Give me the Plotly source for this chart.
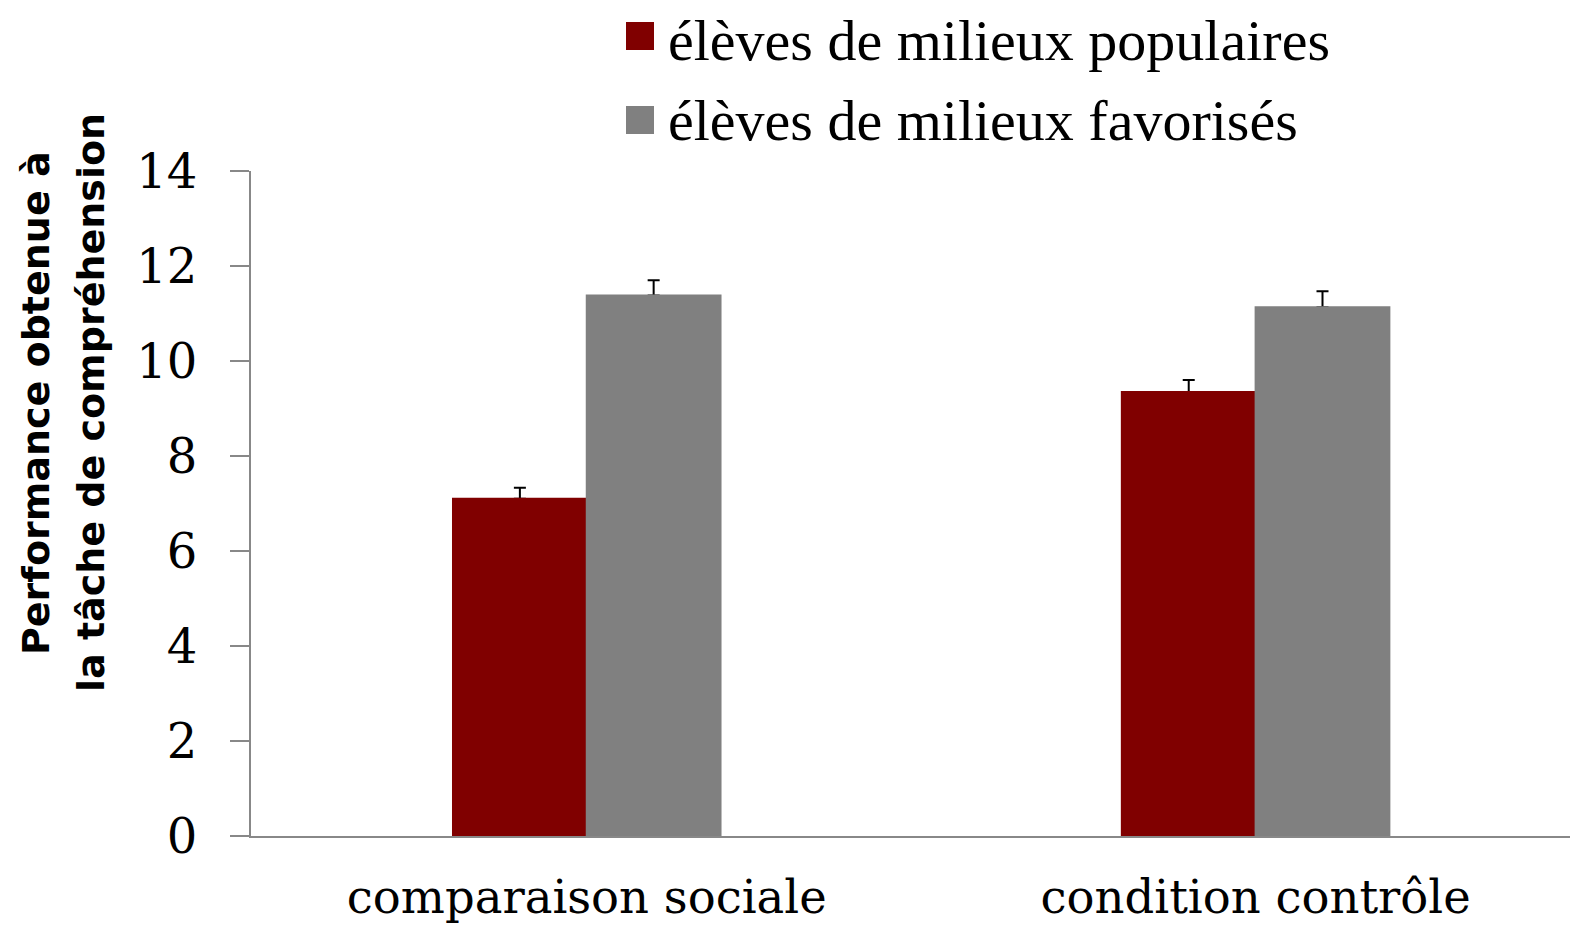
import plotly.graph_objects as go

# ---- data ----
categories = ["comparaison sociale", "condition contrôle"]
series_names = ["élèves de milieux populaires", "élèves de milieux favorisés"]
populaires = [7.10, 9.35]
favorises = [11.38, 11.13]
err_populaires = [0.23, 0.25]
err_favorises = [0.32, 0.34]
y_ticks = [0, 2, 4, 6, 8, 10, 12, 14]
y_title_lines = ["Performance obtenue à", "la tâche de compréhension"]

colors = ["#800000", "#808080"]

# the page body has an 8px margin; figure sized to fit the window
OFF = 8
W, H = 1578 - OFF, 931 - OFF
L, R, T, B = 251 - OFF, 0, 171 - OFF, 931 - 836
pw, ph = W - L - R, H - T - B


def px_x(x):  # page pixel -> paper
    return (x - OFF - L) / pw


def px_y(y):
    return (H - B - (y - OFF)) / ph


fig = go.Figure()
vals = [populaires, favorises]
errs = [err_populaires, err_favorises]
for i in range(2):
    fig.add_trace(go.Bar(
        x=categories, y=vals[i], name=series_names[i],
        marker=dict(color=colors[i], line=dict(width=0)),
        offsetgroup=str(i), showlegend=False,
        error_y=dict(type="data", symmetric=False, array=errs[i],
                     arrayminus=[0] * len(errs[i]),
                     color="black", thickness=2, width=6),
    ))
# cover copies (hide error bar base inside the bars)
for i in range(2):
    fig.add_trace(go.Bar(
        x=categories, y=vals[i], name=series_names[i],
        marker=dict(color=colors[i], line=dict(width=2, color=colors[i])),
        offsetgroup=str(i), showlegend=False, hoverinfo="skip",
    ))

fig.update_layout(
    width=W, height=H,
    margin=dict(l=L, r=R, t=T, b=B),
    paper_bgcolor="white", plot_bgcolor="white",
    barmode="group", bargap=0.6, bargroupgap=0,
    showlegend=False,
    font=dict(family="DejaVu Serif", color="black"),
)
fig.update_xaxes(
    type="category", range=[-0.502, 1.482],
    showline=True, linecolor="#888888", linewidth=2,
    ticks="", showgrid=False, zeroline=False,
    tickfont=dict(family="DejaVu Serif", size=46.5, color="black"),
    ticklabelstandoff=19,
)
fig.update_yaxes(
    range=[0, 14], tickvals=y_ticks,
    showline=True, linecolor="#888888", linewidth=2,
    ticks="outside", ticklen=19, tickcolor="#888888", tickwidth=2,
    showgrid=False, zeroline=False,
    tickfont=dict(family="DejaVu Serif", size=48, color="black"),
    ticklabelstandoff=23,
)

# legend (manual)
legend_rows_y = [36, 120]
text_dy = [4, 0]
for i in range(2):
    yc = legend_rows_y[i]
    fig.add_shape(type="rect", xref="paper", yref="paper",
                  x0=px_x(626), x1=px_x(654), y0=px_y(yc - 14), y1=px_y(yc + 14),
                  fillcolor=colors[i], line=dict(width=0))
    fig.add_annotation(xref="paper", yref="paper", x=px_x(666), y=px_y(yc + text_dy[i]),
                       xanchor="left", yanchor="middle", showarrow=False,
                       text=series_names[i],
                       font=dict(family="Liberation Serif", size=58, color="black"))

# y-axis title (two rotated lines)
title_x = [36, 91]
for i in range(2):
    fig.add_annotation(xref="paper", yref="paper", x=px_x(title_x[i]), y=px_y(403),
                       xanchor="center", yanchor="middle", showarrow=False,
                       textangle=-90, text="<b>" + y_title_lines[i] + "</b>",
                       font=dict(family="DejaVu Sans", size=38, color="black"))

fig.write_html("out.html")
